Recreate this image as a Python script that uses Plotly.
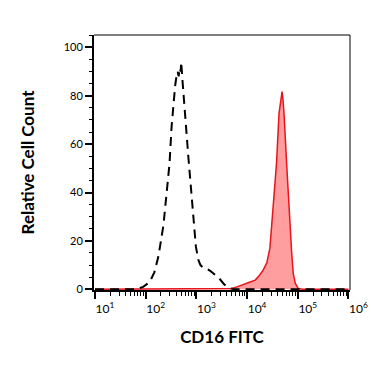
import plotly.graph_objects as go

# Isotype control (dashed black) - log10 fluorescence and relative count
iso_log = [1.0, 1.5, 1.8, 1.95, 2.08, 2.17, 2.25, 2.35, 2.41, 2.47, 2.51, 2.54, 2.58, 2.60,
           2.63, 2.65, 2.67, 2.69, 2.70, 2.73, 2.76, 2.80, 2.84, 2.87, 2.89, 2.94, 2.99,
           3.04, 3.08, 3.13, 3.20, 3.28, 3.37, 3.45, 3.55, 3.65, 3.75, 4.5, 6.0]
iso_count = [0, 0, 0, 1, 3, 7, 13.5, 26.5, 40, 52, 67, 76, 84, 87,
             90, 88, 91.5, 90, 94, 85, 75.5, 66, 55, 48, 40, 28.6, 17.6,
             12, 10, 9, 8.5, 7.5, 6, 4.5, 2, 0.5, 0, 0, 0]

# CD16 FITC stained (red filled)
cd16_log = [1.0, 3.6, 3.7, 3.8, 3.92, 4.06, 4.16, 4.25, 4.32, 4.39, 4.45, 4.51, 4.58,
            4.63, 4.67, 4.69, 4.71, 4.73, 4.78, 4.83, 4.88, 4.91, 4.95, 5.01, 5.1, 6.0]
cd16_count = [0, 0, 0.3, 1, 1.8, 3, 3.8, 5.9, 8, 11, 17, 34, 52,
              72.7, 80, 81.7, 78, 72, 52, 31, 15, 6.6, 2.5, 0.3, 0, 0]

x_tick_exp = [1, 2, 3, 4, 5, 6]
y_ticks = [0, 20, 40, 60, 80, 100]

fig = go.Figure()
fig.add_trace(go.Scatter(
    x=[10 ** v for v in cd16_log], y=cd16_count, mode="lines",
    line=dict(color="#e8141b", width=1.5), fill="tozeroy",
    fillcolor="rgba(255,40,40,0.45)", hoverinfo="skip"))
fig.add_trace(go.Scatter(
    x=[10 ** v for v in iso_log], y=iso_count, mode="lines",
    line=dict(color="black", width=2, dash="9px,6px"), hoverinfo="skip"))

fig.update_layout(
    width=371, height=366,
    margin=dict(l=94, r=21, t=35, b=76),
    paper_bgcolor="white", plot_bgcolor="white",
    showlegend=False,
    font=dict(family="Lato", color="black", size=12),
    shapes=[
        dict(type="line", xref="paper", yref="paper", x0=0, x1=1, y0=1, y1=1,
             line=dict(color="black", width=1)),
        dict(type="line", xref="paper", yref="paper", x0=1, x1=1, y0=0, y1=1,
             line=dict(color="black", width=1)),
    ],
)
fig.update_xaxes(
    type="log", range=[0.98, 6.03], automargin=False,
    tickmode="array", tickvals=[10 ** e for e in x_tick_exp],
    ticktext=[f"10<sup>{e}</sup>" for e in x_tick_exp],
    ticks="outside", ticklen=7, tickwidth=2, tickcolor="black",
    showline=True, linecolor="black", linewidth=2,
    showgrid=False, zeroline=False,
    minor=dict(ticks="outside", ticklen=4, tickwidth=1, tickcolor="black", dtick="D1", showgrid=False),
    tickfont=dict(size=12), ticklabelshift=10,
    title=dict(text="CD16 FITC", font=dict(size=17, weight="bold"), standoff=16),
)
fig.update_yaxes(
    range=[-0.3, 105.1], automargin=False,
    tickmode="array", tickvals=y_ticks,
    ticks="outside", ticklen=7, tickwidth=2, tickcolor="black",
    showline=True, linecolor="black", linewidth=2,
    showgrid=False, zeroline=False,
    minor=dict(ticks="outside", ticklen=3, tickwidth=1, tickcolor="black", dtick=5, showgrid=False),
    tickfont=dict(size=11),
    title=dict(text="Relative Cell Count", font=dict(size=17, weight="bold"), standoff=25),
)
fig.write_html("out.html", config={"displayModeBar": False},
               post_script="document.body.style.margin='0px';")
